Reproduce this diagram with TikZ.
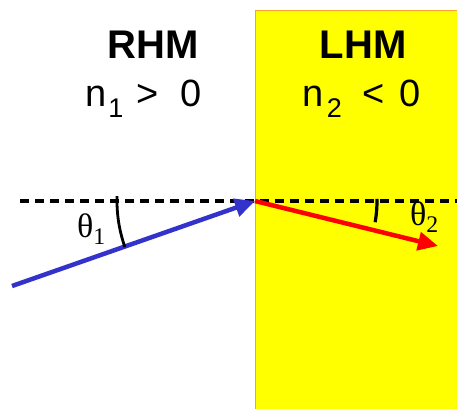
\documentclass[tikz,border=0pt]{standalone}
\usepackage{fontspec}
\setmainfont{Liberation Serif}
\setsansfont{Liberation Sans}
\usetikzlibrary{arrows.meta}
\definecolor{lhmyellow}{RGB}{255,255,0}
\definecolor{lhmorange}{RGB}{255,160,40}
\definecolor{incblue}{RGB}{51,51,204}
\definecolor{refred}{RGB}{255,0,0}
\newcommand{\mysub}[1]{\raisebox{-11pt}{\fontsize{27}{29}\selectfont #1}}
\tikzset{
  title/.style={font=\sffamily\bfseries\fontsize{40}{44}\selectfont, anchor=base},
  index/.style={font=\sffamily\fontsize{38}{42}\selectfont, anchor=base west, inner sep=0pt},
  anglab/.style={font=\fontsize{34}{38}\selectfont, anchor=base west, inner sep=0pt},
  ray/.style={line width=4.5pt, -{Triangle[length=20pt,width=18pt]}},
}
\begin{document}
\begin{tikzpicture}[x=1pt,y=-1pt]
\useasboundingbox (0,0) rectangle (457,408);
\fill[lhmyellow] (255,10) rectangle (458,409);
\draw[lhmorange, line width=1.2pt] (255.5,409) -- (255.5,10.5) -- (458,10.5);
\coordinate (o) at (255,201);
\coordinate (dl) at (20,201);
\coordinate (dr) at (458,201);
\coordinate (s) at (12,286);
\coordinate (e) at (438,246);
\draw[line width=3.4pt, dash pattern=on 9pt off 6pt] (dl) -- (dr);
\draw[ray, incblue] (s) -- (o);
\draw[ray, refred] (o) -- (e);
\draw[line width=2.8pt] ([shift={(182:138)}]o) arc[start angle=182, end angle=160.5, radius=138];
\draw[line width=3.2pt] ([shift={(-1:122)}]o) arc[start angle=-1, end angle=10, radius=122];
\node[title] (rhm) at (153,58) {RHM};
\node[title] (lhm) at (363,58) {LHM};
\node[index] (n1) at (85.5,106) {n\hspace{1.5pt}\mysub{1}\hspace{13pt}>\hspace{22pt}0};
\node[index] (n2) at (302.5,106) {n\hspace{3pt}\mysub{2}\hspace{21pt}<\hspace{14pt}0};
\node[anglab] (t1) at (77,237) {θ\textsubscript{1}};
\node[anglab] (t2) at (410,225) {θ\textsubscript{2}};
\end{tikzpicture}
\end{document}
